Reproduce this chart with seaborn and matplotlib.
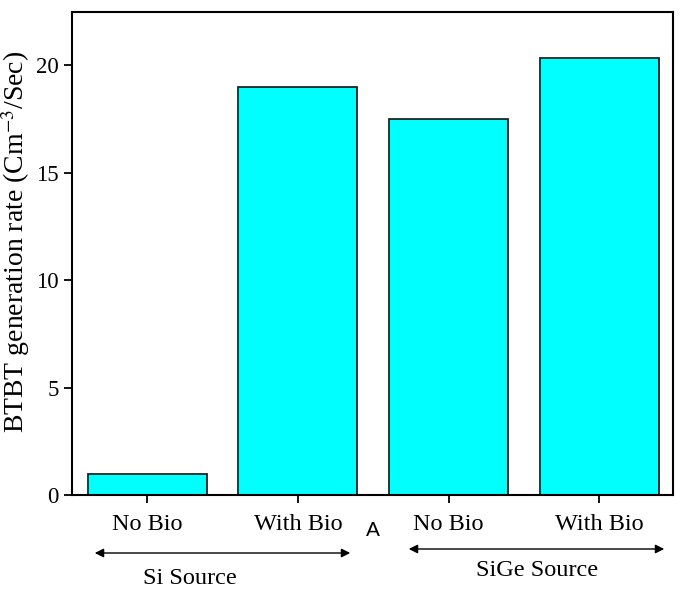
import pandas as pd
import matplotlib.pyplot as plt
import seaborn as sns

# data
categories = ['No Bio ', 'With Bio ', ' No Bio', ' With Bio']
tick_labels = ['No Bio', 'With Bio', 'No Bio', 'With Bio']
rates = [1.0, 19.0, 17.5, 20.33]
groups = ['Si Source', 'SiGe Source']

df = pd.DataFrame({'cat': categories, 'rate': rates})

sns.set_style('ticks')
plt.rcParams['font.family'] = ['Liberation Serif', 'DejaVu Serif']
plt.rcParams['mathtext.fontset'] = 'stix'
plt.rcParams['text.color'] = 'black'
plt.rcParams['axes.labelcolor'] = 'black'

fig = plt.figure(figsize=(6.85, 5.91), dpi=100)
ax = fig.add_axes([72/685, 96/591, 601/685, 483/591])

sns.barplot(data=df, x='cat', y='rate', color='#00ffff', saturation=1,
            edgecolor='#222222', linewidth=1.3, width=0.79, ax=ax)

ax.set_xlim(-0.5, 3.49)
ax.set_ylim(0, 22.47)
ax.set_yticks([0, 5, 10, 15, 20])
ax.set_xticks(range(4))
ax.set_xticklabels(tick_labels)
ax.tick_params(axis='both', direction='out', length=6, width=1.3,
               colors='black')
ax.tick_params(axis='y', labelsize=16.5)
ax.tick_params(axis='x', labelsize=17.5, pad=8)
for s in ax.spines.values():
    s.set_visible(True)
    s.set_linewidth(1.5)
    s.set_color('black')
ax.set_xlabel('')
ax.set_ylabel('BTBT generation rate (Cm$^{-3}$/Sec)', fontsize=20)
ax.yaxis.set_label_coords(-0.066, 0.525)

# group arrows and labels below the axis
ax.annotate('', xy=(92/685, 38/591), xytext=(353/685, 38/591),
            xycoords='figure fraction',
            arrowprops=dict(arrowstyle='<|-|>', color='black', lw=1,
                            mutation_scale=13))
ax.annotate('', xy=(406/685, 42/591), xytext=(667/685, 42/591),
            xycoords='figure fraction',
            arrowprops=dict(arrowstyle='<|-|>', color='black', lw=1,
                            mutation_scale=13))
fig.text(190/685, 12/591, groups[0], ha='center', va='center', fontsize=17.5)
fig.text(537/685, 20/591, groups[1], ha='center', va='center', fontsize=17.5)
fig.text(373/685, 61/591, 'A', ha='center', va='center', fontsize=15,
         family=['Liberation Sans', 'DejaVu Sans'])

fig.savefig('out.png', dpi=100)
